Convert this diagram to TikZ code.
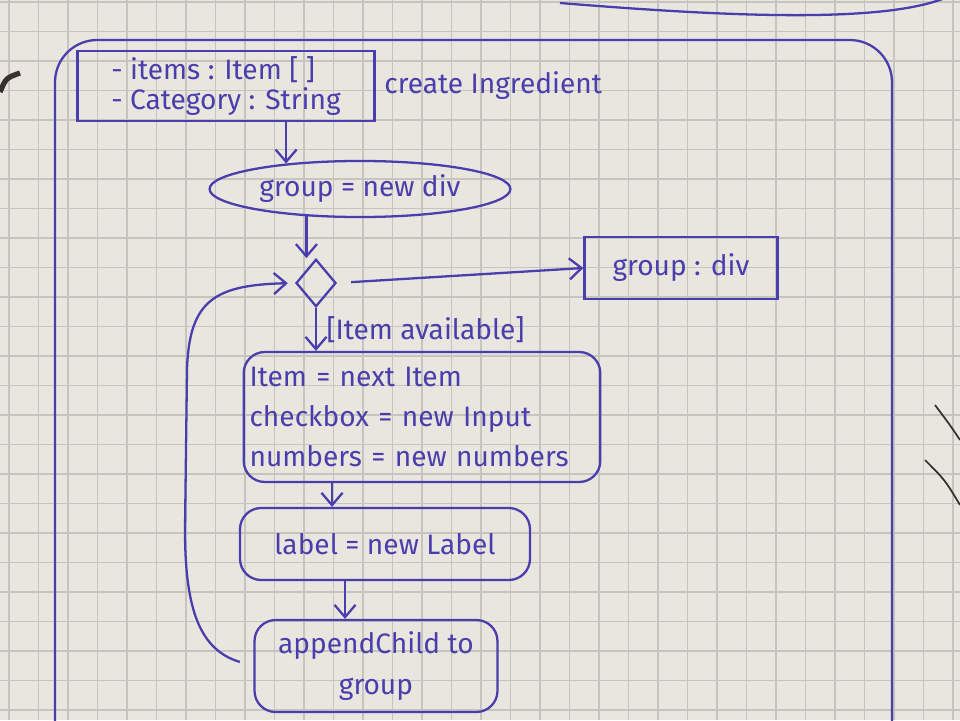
\documentclass[tikz,border=0pt]{standalone}
\usepackage{fontspec}
\setmainfont{Fira Sans}
\definecolor{ink}{RGB}{74, 62, 172}
\definecolor{paper}{RGB}{233, 230, 223}
\definecolor{gridgray}{RGB}{198, 196, 190}
\definecolor{pencil}{RGB}{55, 50, 45}
\usetikzlibrary{shapes, arrows.meta, positioning, calc}

\begin{document}
\begin{tikzpicture}[x=0.02cm, y=-0.02cm,
  inkline/.style={draw=ink, line width=1.3pt},
  hand/.style={text=ink, font=\fontsize{16}{23}\selectfont},
  actbox/.style={inkline, hand, rounded corners=12pt},
  flow/.style={inkline, -{Straight Barb[length=7pt, width=12pt]}}
]
  \useasboundingbox (0,0) rectangle (960,720);
  \clip (0,0) rectangle (960,720);

  % paper and grid
  \fill[paper] (0,0) rectangle (960,720);
  \foreach \gx in {9,38.5,...,960} \draw[gridgray, line width=0.7pt] (\gx,0) -- (\gx,720);
  \foreach \gy in {2,31.5,...,720} \draw[gridgray, line width=0.7pt] (0,\gy) -- (960,\gy);

  % frames and stray marks
  \draw[inkline, rounded corners=24pt] (55,40) rectangle (892,770);
  \draw[inkline] (560,3) .. controls (720,16) and (880,24) .. (945,-2);
  \draw[pencil, line width=3pt] (0,92) .. controls (6,78) .. (20,73);
  \draw[pencil, line width=1pt] (935,405) .. controls (950,425) .. (960,440);
  \draw[pencil, line width=1pt] (925,460) .. controls (945,480) .. (960,505);

  % attributes and title
  \node[inkline, hand, align=left, minimum width=5.94cm, minimum height=1.26cm, inner sep=3pt] (attrs) at (226,86) {- items : Item [ ]\\[-6pt]- Category : String};
  \node[hand, right=0.05cm of attrs] (title) {create Ingredient};

  % start of activity
  \node[inkline, hand, ellipse, minimum width=5.6cm, minimum height=0.96cm] (grp) at (360,189) {group = new div};
  \node[inkline, diamond, minimum width=0.8cm, minimum height=0.95cm, inner sep=0pt] (dec) at (316,283) {};
  \node[inkline, hand, minimum width=3.86cm, minimum height=1.24cm] (gdiv) at (681,268) {group : div};

  % loop body
  \node[actbox, align=left, text width=6.9cm, minimum height=2.6cm] (act) at (422,417) {Item = next Item\\checkbox = new Input\\numbers = new numbers};
  \node[actbox, minimum width=5.8cm, minimum height=1.44cm] (lbl) at (385,544) {label = new Label};
  \node[actbox, align=center, minimum width=4.86cm, minimum height=1.84cm] (app) at (376,666) {appendChild to\\group};

  % connectors
  \draw[flow] (attrs.south -| grp.161) -- (grp.161);
  \draw[flow] (grp.-153) -- (grp.-153 |- dec.north);
  \draw[flow, shorten <=8pt] (dec.east) -- (gdiv.west);
  \draw[flow] (dec.south) -- (dec.south |- act.north)
    node[hand, midway, anchor=west, xshift=2pt] (guard) {[Item available]};
  \draw[flow] ([xshift=-1.8cm]act.south) -- ([xshift=-1.8cm]act.south |- lbl.north);
  \draw[flow] ([xshift=-0.8cm]lbl.south) -- ([xshift=-0.8cm]lbl.south |- app.north);
  \draw[flow, shorten <=8pt, shorten >=4pt] (app.west) .. controls (200,650) and (185,610) .. (185,530)
    -- (187,370) .. controls (189,300) and (215,285) .. (dec.west);
\end{tikzpicture}
\end{document}
